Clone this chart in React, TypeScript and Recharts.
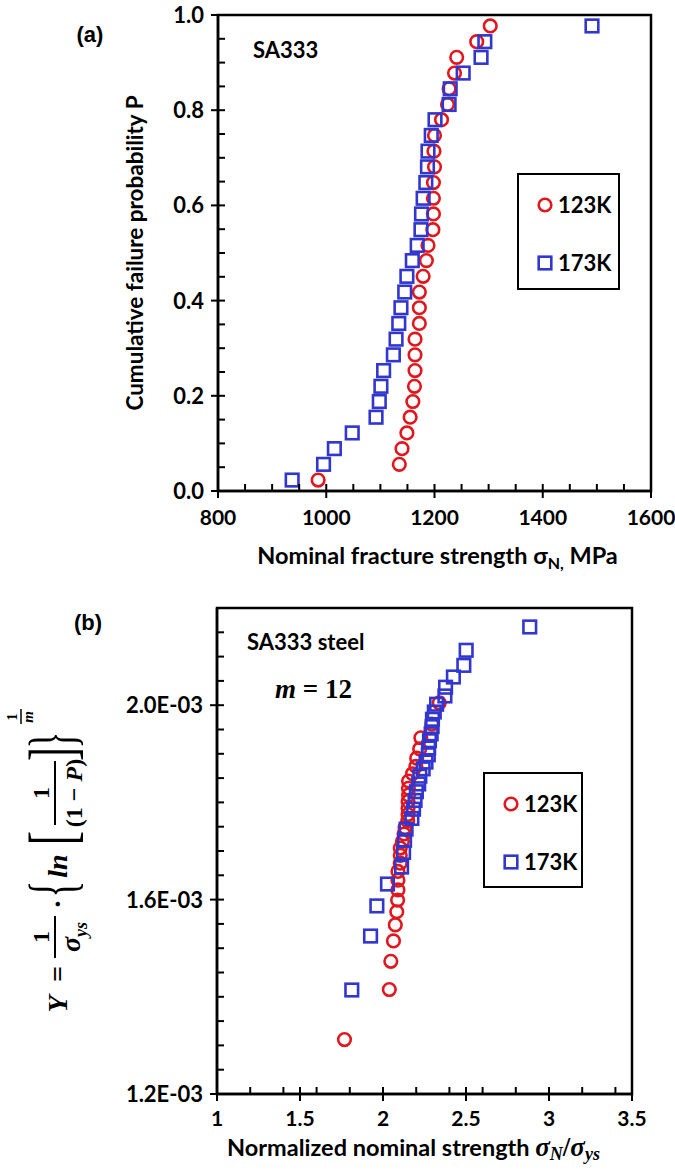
import React from 'react';
import { ScatterChart, Scatter, XAxis, YAxis, ReferenceArea, Legend } from 'recharts';

const SANS = 'Lato, "Open Sans", sans-serif';
const SERIF = '"Liberation Serif", "DejaVu Serif", serif';
const RED = '#e2161d';
const BLUE = '#3136cf';

// ---------- Panel (a) data ----------
const seriesNames = ['123K', '173K'];
const strengthA123 = [985, 1135, 1140, 1149, 1155, 1160, 1163, 1164, 1164, 1164, 1172, 1172, 1172, 1179, 1185, 1188, 1197, 1198, 1198, 1198, 1200, 1199, 1200, 1213, 1224, 1227, 1237, 1241, 1278, 1303];
const probA123 = [0.023, 0.056, 0.089, 0.122, 0.155, 0.188, 0.220, 0.253, 0.286, 0.319, 0.352, 0.385, 0.418, 0.451, 0.484, 0.516, 0.549, 0.582, 0.615, 0.648, 0.681, 0.714, 0.747, 0.780, 0.812, 0.845, 0.878, 0.911, 0.944, 0.977];
const strengthA173 = [937, 995, 1015, 1048, 1092, 1098, 1101, 1106, 1124, 1129, 1134, 1138, 1145, 1149, 1159, 1168, 1175, 1176, 1179, 1184, 1187, 1188, 1194, 1201, 1227, 1229, 1253, 1286, 1293, 1491];
const probA173 = [0.023, 0.056, 0.089, 0.122, 0.155, 0.188, 0.220, 0.253, 0.286, 0.319, 0.352, 0.385, 0.418, 0.451, 0.484, 0.516, 0.549, 0.582, 0.615, 0.648, 0.681, 0.714, 0.747, 0.780, 0.812, 0.845, 0.878, 0.911, 0.944, 0.977];

const xTicksA = [800, 850, 900, 950, 1000, 1050, 1100, 1150, 1200, 1250, 1300, 1350, 1400, 1450, 1500, 1550, 1600];
const xMajorA = [800, 1000, 1200, 1400, 1600];
const yTicksA = [0, 0.05, 0.1, 0.15, 0.2, 0.25, 0.3, 0.35, 0.4, 0.45, 0.5, 0.55, 0.6, 0.65, 0.7, 0.75, 0.8, 0.85, 0.9, 0.95, 1.0];
const yMajorA = [0, 0.2, 0.4, 0.6, 0.8, 1.0];
const yLabelsA = ['0.0', '0.2', '0.4', '0.6', '0.8', '1.0'];

// ---------- Panel (b) data ----------
const normB123 = [1.768, 2.038, 2.047, 2.063, 2.074, 2.083, 2.088, 2.090, 2.090, 2.090, 2.104, 2.104, 2.104, 2.117, 2.127, 2.133, 2.149, 2.151, 2.151, 2.151, 2.154, 2.153, 2.154, 2.178, 2.198, 2.203, 2.221, 2.228, 2.294, 2.339];
const yB123 = [1.312e-3, 1.415e-3, 1.473e-3, 1.515e-3, 1.548e-3, 1.575e-3, 1.599e-3, 1.620e-3, 1.640e-3, 1.658e-3, 1.675e-3, 1.691e-3, 1.706e-3, 1.720e-3, 1.735e-3, 1.748e-3, 1.762e-3, 1.775e-3, 1.788e-3, 1.802e-3, 1.815e-3, 1.829e-3, 1.844e-3, 1.859e-3, 1.874e-3, 1.891e-3, 1.910e-3, 1.933e-3, 1.961e-3, 2.005e-3];
const normB173 = [1.812, 1.925, 1.963, 2.027, 2.112, 2.124, 2.130, 2.139, 2.174, 2.184, 2.193, 2.201, 2.215, 2.222, 2.242, 2.259, 2.273, 2.275, 2.280, 2.290, 2.296, 2.298, 2.309, 2.323, 2.373, 2.377, 2.424, 2.487, 2.501, 2.884];
const yB173 = [1.414e-3, 1.525e-3, 1.587e-3, 1.632e-3, 1.667e-3, 1.697e-3, 1.722e-3, 1.745e-3, 1.767e-3, 1.786e-3, 1.804e-3, 1.822e-3, 1.838e-3, 1.854e-3, 1.869e-3, 1.883e-3, 1.898e-3, 1.912e-3, 1.927e-3, 1.941e-3, 1.956e-3, 1.971e-3, 1.986e-3, 2.002e-3, 2.019e-3, 2.037e-3, 2.058e-3, 2.082e-3, 2.113e-3, 2.161e-3];

const xTicksB = [1, 1.2, 1.4, 1.5, 1.6, 1.8, 2, 2.2, 2.4, 2.5, 2.6, 2.8, 3, 3.2, 3.4, 3.5];
const xMajorB = [1, 1.5, 2, 2.5, 3, 3.5];
const xLabelsB = ['1', '1.5', '2', '2.5', '3', '3.5'];
const yTicksB = [0.0012, 0.00125, 0.0013, 0.00135, 0.0014, 0.00145, 0.0015, 0.00155, 0.0016, 0.00165, 0.0017, 0.00175, 0.0018, 0.00185, 0.0019, 0.00195, 0.002, 0.00205, 0.0021, 0.00215, 0.0022];
const yMajorB = [0.0012, 0.0016, 0.002];
const yLabelsB = ['1.2E-03', '1.6E-03', '2.0E-03'];

const zip = (xs: number[], ys: number[]) => xs.map((x, i) => ({ x, y: ys[i] }));
const dataA123 = zip(strengthA123, probA123);
const dataA173 = zip(strengthA173, probA173);
const dataB123 = zip(normB123, yB123);
const dataB173 = zip(normB173, yB173);

const findIdx = (arr: number[], v: number) => arr.findIndex((a) => Math.abs(a - v) < 1e-9);

const circleShape = (p: any) => (
  <circle cx={p.cx} cy={p.cy} r={6.3} fill="none" stroke={RED} strokeWidth={2.6} />
);
const squareShape = (p: any) => (
  <rect x={p.cx - 6.3} y={p.cy - 6.3} width={12.6} height={12.6} fill="none" stroke={BLUE} strokeWidth={2.6} />
);

const makeXTick = (majors: number[], labels: string[] | null, offset: number) => (props: any) => {
  const { x, y, payload } = props;
  const idx = findIdx(majors, payload.value);
  const major = idx >= 0;
  return (
    <g>
      {major ? (
        <line x1={x} x2={x} y1={y - 7} y2={y + 7} stroke="#000" strokeWidth={2} />
      ) : (
        <line x1={x} x2={x} y1={y} y2={y - 7} stroke="#000" strokeWidth={2} />
      )}
      {major && (
        <text x={x} y={y + offset} textAnchor="middle" fontFamily={SANS} fontWeight={700} fontSize={21} fill="#000">
          {labels ? labels[idx] : String(payload.value)}
        </text>
      )}
    </g>
  );
};

const makeYTick = (majors: number[], labels: string[]) => (props: any) => {
  const { x, y, payload } = props;
  const idx = findIdx(majors, payload.value);
  const major = idx >= 0;
  return (
    <g>
      {major ? (
        <line x1={x - 7} x2={x + 7} y1={y} y2={y} stroke="#000" strokeWidth={2} />
      ) : (
        <line x1={x} x2={x + 7} y1={y} y2={y} stroke="#000" strokeWidth={2} />
      )}
      {major && (
        <text x={x - 14} y={y + 8} textAnchor="end" fontFamily={SANS} fontWeight={700} fontSize={22} fill="#000">
          {labels[idx]}
        </text>
      )}
    </g>
  );
};

const legendBox = (w: number, h: number) => (props: any) => {
  const payload = (props && props.payload) || [];
  const names = payload.length ? payload.map((p: any) => p.value) : seriesNames;
  return (
    <div style={{ boxSizing: 'border-box', width: w, height: h, border: '2.5px solid #000', background: '#fff', position: 'relative' }}>
      {names.map((n: string, i: number) => (
        <div key={n} style={{ position: 'absolute', left: 17, top: 17 + i * 58, height: 26, display: 'flex', alignItems: 'center' }}>
          <svg width={18} height={18} style={{ display: 'block' }}>
            {n === seriesNames[0] ? (
              <circle cx={9} cy={9} r={6.3} fill="none" stroke={RED} strokeWidth={2.6} />
            ) : (
              <rect x={2.7} y={2.7} width={12.6} height={12.6} fill="none" stroke={BLUE} strokeWidth={2.6} />
            )}
          </svg>
          <span style={{ fontFamily: SANS, fontWeight: 700, fontSize: 22, color: '#000', marginLeft: 4, lineHeight: '26px' }}>{n}</span>
        </div>
      ))}
    </div>
  );
};

const axisLine = { stroke: '#000', strokeWidth: 2.5 };

const ChartA = () => (
  <ScatterChart width={675} height={580} margin={{ top: 15, right: 24, bottom: 0, left: 0 }}>
    <XAxis
      type="number"
      dataKey="x"
      domain={[800, 1600]}
      ticks={xTicksA}
      interval={0}
      tickSize={0}
      tickMargin={0}
      height={89}
      axisLine={axisLine}
      tickLine={false}
      tick={makeXTick(xMajorA, null, 34)}
      label={(p: any) => {
        const vb = p.viewBox;
        return (
          <text x={vb.x + vb.width / 2 + 3} y={vb.y + 73} textAnchor="middle" fontFamily={SANS} fontWeight={700} fontSize={23.5} fill="#000">
            Nominal fracture strength σ
            <tspan fontSize={16} dy={5}>N,</tspan>
            <tspan dy={-5}> MPa</tspan>
          </text>
        );
      }}
    />
    <YAxis
      type="number"
      dataKey="y"
      domain={[0, 1]}
      ticks={yTicksA}
      interval={0}
      tickSize={0}
      tickMargin={0}
      width={218}
      axisLine={axisLine}
      tickLine={false}
      tick={makeYTick(yMajorA, yLabelsA)}
      label={(p: any) => {
        const vb = p.viewBox;
        const cy = vb.y + vb.height / 2;
        return (
          <g>
            <text transform={`translate(143,${cy}) rotate(-90)`} textAnchor="middle" fontFamily={SANS} fontWeight={700} fontSize={22.5} fill="#000">
              Cumulative failure probability P
            </text>
            <text x={90} y={42} textAnchor="middle" fontFamily='"Liberation Sans", Arial, sans-serif' fontWeight={700} fontSize={22} fill="#000">(a)</text>
            <text x={253} y={58} fontFamily={SANS} fontWeight={700} fontSize={22} fill="#000">SA333</text>
          </g>
        );
      }}
    />
    <ReferenceArea x1={800} x2={1600} y1={0} y2={1} fill="none" stroke="#000" strokeWidth={2.5} />
    <Scatter name={seriesNames[0]} data={dataA123} shape={circleShape} isAnimationActive={false} fill={RED} />
    <Scatter name={seriesNames[1]} data={dataA173} shape={squareShape} isAnimationActive={false} fill={BLUE} />
    <Legend
      layout="vertical"
      align="center"
      verticalAlign="middle"
      content={legendBox(103, 117)}
      wrapperStyle={{ left: 517, top: 173, right: 'auto', bottom: 'auto', width: 103 }}
    />
  </ScatterChart>
);

const Formula = () => (
  <g transform="translate(0,437) rotate(-90)" fontFamily={SERIF} fontWeight={700} fill="#000">
    <text x={13} y={67} fontSize={28} fontStyle="italic" textAnchor="middle">Y</text>
    <text x={43} y={67} fontSize={28} textAnchor="middle">=</text>
    <text x={80} y={49} fontSize={24} textAnchor="middle">1</text>
    <line x1={59} x2={101} y1={55} y2={55} stroke="#000" strokeWidth={2} />
    <text x={80} y={80} fontSize={28} fontStyle="italic" textAnchor="middle">
      σ<tspan fontSize={18} dy={7}>ys</tspan>
    </text>
    <text x={113} y={67} fontSize={28} textAnchor="middle">·</text>
    <text transform="translate(128,74) scale(0.5,0.95)" fontSize={70} fontWeight={400} textAnchor="middle">{'{'}</text>
    <text x={151} y={67} fontSize={28} fontStyle="italic" textAnchor="middle">ln</text>
    <text transform="translate(179,74) scale(0.6,0.95)" fontSize={70} fontWeight={400} textAnchor="middle">[</text>
    <text x={224} y={49} fontSize={24} textAnchor="middle">1</text>
    <line x1={192} x2={256} y1={55} y2={55} stroke="#000" strokeWidth={2} />
    <text x={224} y={82} fontSize={24} textAnchor="middle">
      (1 − <tspan fontStyle="italic">P</tspan>)
    </text>
    <text transform="translate(263,74) scale(0.6,0.95)" fontSize={70} fontWeight={400} textAnchor="middle">]</text>
    <text transform="translate(277,74) scale(0.5,0.95)" fontSize={70} fontWeight={400} textAnchor="middle">{'}'}</text>
    <text x={300} y={17} fontSize={14} textAnchor="middle">1</text>
    <line x1={293} x2={308} y1={21} y2={21} stroke="#000" strokeWidth={1.5} />
    <text x={300} y={33} fontSize={15} fontStyle="italic" textAnchor="middle">m</text>
  </g>
);

const ChartB = () => (
  <ScatterChart width={675} height={593} margin={{ top: 28, right: 43, bottom: 0, left: 0 }}>
    <XAxis
      type="number"
      dataKey="x"
      domain={[1, 3.5]}
      ticks={xTicksB}
      interval={0}
      tickSize={0}
      tickMargin={0}
      height={79}
      axisLine={axisLine}
      tickLine={false}
      tick={makeXTick(xMajorB, xLabelsB, 32)}
      label={(p: any) => {
        const vb = p.viewBox;
        return (
          <text x={vb.x + vb.width / 2 - 11} y={vb.y + 62} textAnchor="middle" fill="#000">
            <tspan fontFamily={SANS} fontWeight={700} fontSize={23.5}>Normalized nominal strength </tspan>
            <tspan fontFamily={SERIF} fontWeight={700} fontStyle="italic" fontSize={27}>σ</tspan>
            <tspan fontFamily={SERIF} fontWeight={700} fontStyle="italic" fontSize={18} dy={4}>N</tspan>
            <tspan fontFamily={SERIF} fontWeight={700} fontSize={27} dy={-4}>/</tspan>
            <tspan fontFamily={SERIF} fontWeight={700} fontStyle="italic" fontSize={27}>σ</tspan>
            <tspan fontFamily={SERIF} fontWeight={700} fontStyle="italic" fontSize={18} dy={4}>ys</tspan>
          </text>
        );
      }}
    />
    <YAxis
      type="number"
      dataKey="y"
      domain={[0.0012, 0.0022]}
      ticks={yTicksB}
      interval={0}
      tickSize={0}
      tickMargin={0}
      width={217}
      axisLine={axisLine}
      tickLine={false}
      tick={makeYTick(yMajorB, yLabelsB)}
      label={() => (
        <g>
          <Formula />
          <text x={88} y={50} textAnchor="middle" fontFamily='"Liberation Sans", Arial, sans-serif' fontWeight={700} fontSize={22} fill="#000">(b)</text>
          <text x={247} y={70} fontFamily={SANS} fontWeight={700} fontSize={22} fill="#000">SA333 steel</text>
          <text x={275} y={118} fontFamily={SERIF} fontWeight={700} fontSize={27} fill="#000">
            <tspan fontStyle="italic">m</tspan> = 12
          </text>
        </g>
      )}
    />
    <ReferenceArea x1={1} x2={3.5} y1={0.0012} y2={0.0022} fill="none" stroke="#000" strokeWidth={2.5} />
    <Scatter name={seriesNames[0]} data={dataB123} shape={circleShape} isAnimationActive={false} fill={RED} />
    <Scatter name={seriesNames[1]} data={dataB173} shape={squareShape} isAnimationActive={false} fill={BLUE} />
    <Legend
      layout="vertical"
      align="center"
      verticalAlign="middle"
      content={legendBox(100, 116)}
      wrapperStyle={{ left: 483, top: 192, right: 'auto', bottom: 'auto', width: 100 }}
    />
  </ScatterChart>
);

export default function App() {
  return (
    <div style={{ position: 'absolute', left: 0, top: 0, width: 675, height: 1173, background: '#fff' }}>
      <div style={{ position: 'absolute', left: 0, top: 0 }}>
        <ChartA />
      </div>
      <div style={{ position: 'absolute', left: 0, top: 580 }}>
        <ChartB />
      </div>
    </div>
  );
}
